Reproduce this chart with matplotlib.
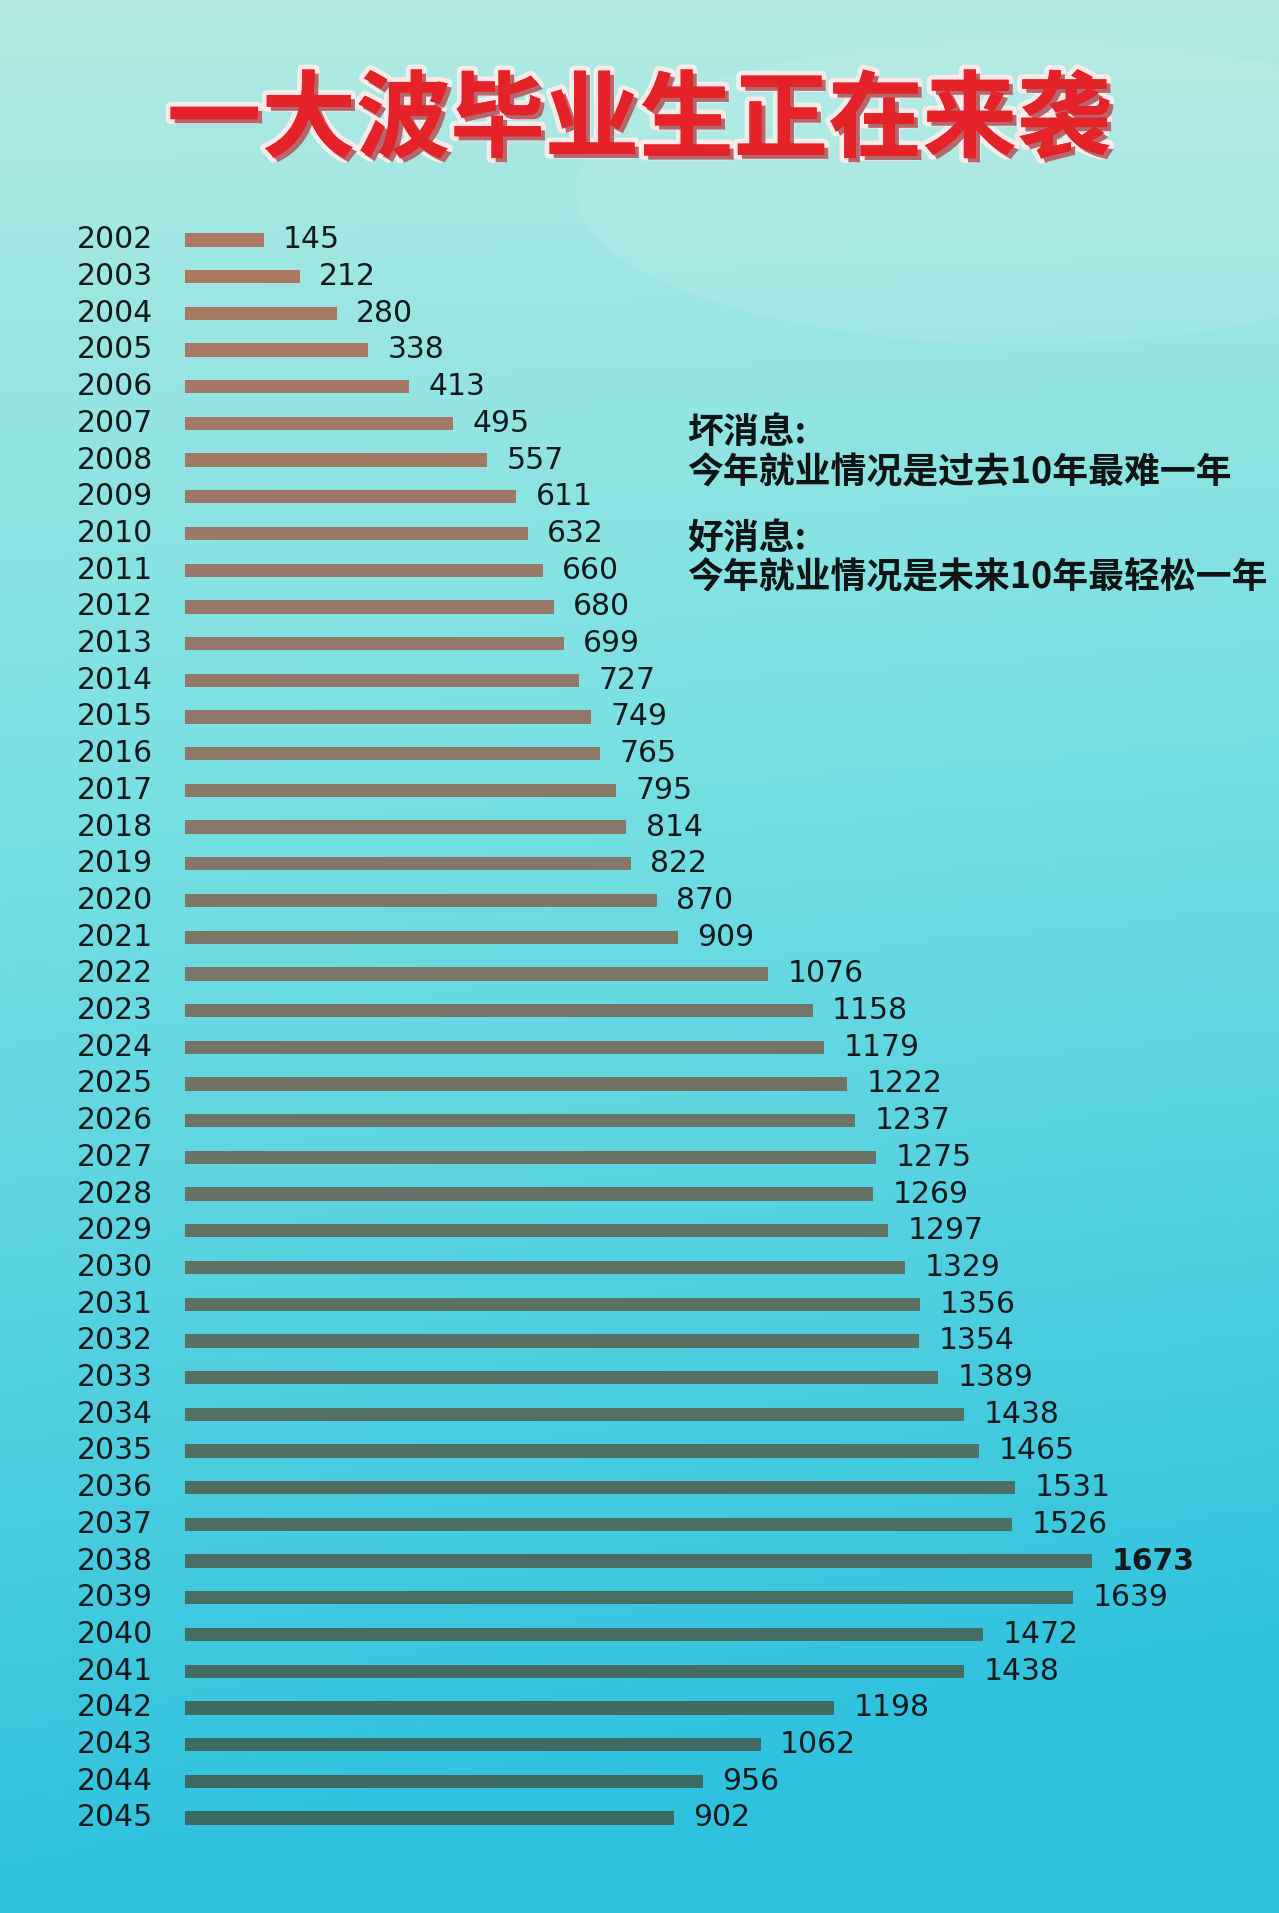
import matplotlib.pyplot as plt
import matplotlib.patheffects as pe
import numpy as np
from matplotlib.colors import LinearSegmentedColormap, to_rgb
from matplotlib.patches import Ellipse

# data
years = list(range(2002, 2046))
graduates = [145, 212, 280, 338, 413, 495, 557, 611, 632, 660,
             680, 699, 727, 749, 765, 795, 814, 822, 870, 909,
             1076, 1158, 1179, 1222, 1237, 1275, 1269, 1297, 1329, 1356,
             1354, 1389, 1438, 1465, 1531, 1526, 1673, 1639, 1472, 1438,
             1198, 1062, 956, 902]
title = '一大波毕业生正在来袭'
notes = ['坏消息:', '今年就业情况是过去10年最难一年',
         '好消息:', '今年就业情况是未来10年最轻松一年']

W, H = 1279, 1913
fig = plt.figure(figsize=(W / 100, H / 100), dpi=100)

# background gradient
bg = fig.add_axes([0, 0, 1, 1])
bg.axis('off')
top = np.array(to_rgb('#b2eae2'))
mid = np.array(to_rgb('#74dfe2'))
bot = np.array(to_rgb('#2fc2de'))
yy = np.linspace(0, 1, 400)[:, None]
xx = np.linspace(0, 1, 300)[None, :]
t = np.clip(yy + 0.15 * xx * yy, 0, 1)[..., None]
img = np.where(t < 0.45, top + (mid - top) * (t / 0.45),
               mid + (bot - mid) * ((t - 0.45) / 0.55))
bg.imshow(img, aspect='auto', extent=[0, 1, 0, 1], origin='upper')
bg.add_patch(Ellipse((0.8, 0.9), 0.7, 0.16, color='white', alpha=0.09, lw=0))
bg.set_xlim(0, 1)
bg.set_ylim(0, 1)

# title
fig.text(0.5, 1 - 122 / H, title, ha='center', va='center', fontsize=68,
         color='#e62229', family=['Noto Sans CJK SC'], weight='black',
         path_effects=[pe.withStroke(linewidth=7, foreground='#fbeaea'),
                       pe.SimplePatchShadow(offset=(3, -3), shadow_rgbFace='#8a1016', alpha=0.6),
                       pe.Normal()])

# bar axes
row = 36.7
x0 = 185
scale = 0.542
ax = fig.add_axes([x0 / W, (H - (1818 + row / 2)) / H, (W - x0) / W, 44 * row / H])
ax.patch.set_alpha(0)
for s in ax.spines.values():
    s.set_visible(False)
ax.set_xticks([])
ax.set_yticks([])

cmap = LinearSegmentedColormap.from_list('bars', ['#ad7864', '#8c786a', '#5b7264', '#3a6a62'])
colors = [cmap(i / (len(years) - 1)) for i in range(len(years))]
pos = np.arange(len(years))
ax.barh(pos, graduates, height=0.36, color=colors, edgecolor='none')
ax.set_xlim(0, (W - x0) / scale)
ax.set_ylim(len(years) - 0.5, -0.5)

ytr = ax.get_yaxis_transform()
for p, yr in zip(pos, years):
    ax.text((77 - x0) / (W - x0), p, str(yr), transform=ytr, ha='left', va='center',
            fontsize=21.5, color='#141a1c', family='DejaVu Sans')

peak = int(np.argmax(graduates))
for i, (p, v) in enumerate(zip(pos, graduates)):
    ax.annotate(str(v), (v, p), xytext=(14, 0), textcoords='offset points',
                ha='left', va='center', fontsize=21.5, color='#141a1c',
                weight='bold' if i == peak else 'normal', family='DejaVu Sans')

# notes
note_y = [433, 473, 538, 578]
for txt, y in zip(notes, note_y):
    fig.text(687 / W, 1 - y / H, txt, ha='left', va='center', fontsize=25.8,
             color='#101414', weight='bold', family=['Noto Sans CJK SC', 'DejaVu Sans'])

fig.savefig('out.png', dpi=100)
